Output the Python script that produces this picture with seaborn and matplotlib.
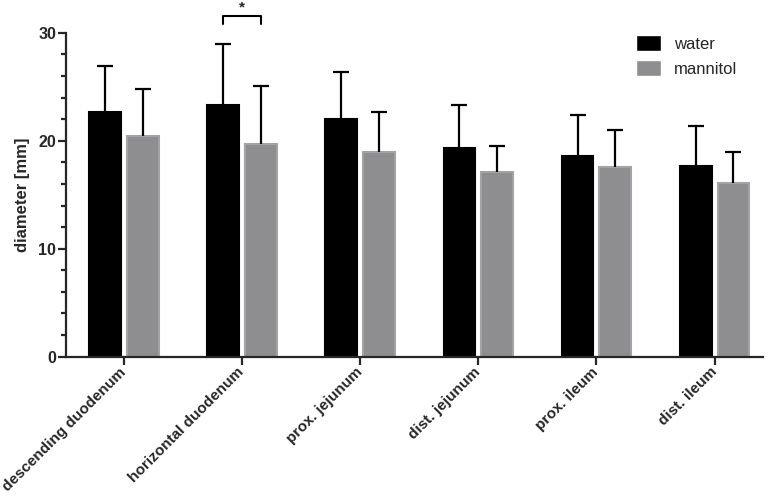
import matplotlib
matplotlib.use('Agg')
import matplotlib.pyplot as plt
from matplotlib.ticker import MultipleLocator
import numpy as np
import pandas as pd
import seaborn as sns

# Data
segments = ['descending duodenum', 'horizontal duodenum', 'prox. jejunum',
            'dist. jejunum', 'prox. ileum', 'dist. ileum']
groups = ['water', 'mannitol']
water = [22.7, 23.3, 22.0, 19.3, 18.6, 17.7]
water_sd = [4.2, 5.7, 4.4, 4.0, 3.8, 3.7]
mannitol = [20.4, 19.7, 19.0, 17.1, 17.6, 16.1]
mannitol_sd = [4.4, 5.4, 3.7, 2.4, 3.4, 2.9]

# Long format table for seaborn
df = pd.DataFrame({
    'segment': segments * 2,
    'group': ['water'] * len(segments) + ['mannitol'] * len(segments),
    'diameter': water + mannitol,
    'sd': water_sd + mannitol_sd,
})

sns.set_style('ticks')
plt.rcParams['font.family'] = ['Liberation Sans', 'DejaVu Sans']

fig = plt.figure(figsize=(7.77, 4.98), dpi=100)
ax = fig.add_axes([0.085, 0.284, 0.897, 0.65])

face = {'water': '#000000', 'mannitol': '#8d8d91'}
edge = {'water': '#000000', 'mannitol': '#a3a3a6'}

sns.barplot(data=df, x='segment', y='diameter', hue='group', hue_order=groups,
            palette=face, width=0.64, gap=0.16, errorbar=None, ax=ax)

# Edge colours and upward-only error bars (no lower cap)
centers = {}
for cont, g in zip(ax.containers, groups):
    xs = []
    for bar in cont:
        bar.set_edgecolor(edge[g])
        bar.set_linewidth(1.5)
        xs.append(bar.get_x() + bar.get_width() / 2)
    centers[g] = xs
    sub = df[df['group'] == g]
    eb = ax.errorbar(xs, sub['diameter'], yerr=[np.zeros(len(sub)), sub['sd']],
                     fmt='none', ecolor='black', elinewidth=1.6, capsize=6,
                     capthick=1.6, zorder=1)
    eb[1][0].set_visible(False)

# Significance bracket on horizontal duodenum
x1, x2 = centers['water'][1], centers['mannitol'][1]
ax.plot([x1, x1, x2, x2], [30.8, 31.6, 31.6, 30.8], color='black', lw=1.5,
        clip_on=False)
ax.text((x1 + x2) / 2, 31.7, '*', ha='center', va='bottom', fontsize=11,
        fontweight='bold')

ax.set_ylim(0, 30)
ax.set_xlim(-0.49, 5.41)
ax.yaxis.set_major_locator(MultipleLocator(10))
ax.yaxis.set_minor_locator(MultipleLocator(2))
ax.set_xlabel('')
ax.set_ylabel('diameter [mm]', fontsize=12, fontweight='bold', labelpad=6)

sns.despine(ax=ax)
for s in ['left', 'bottom']:
    ax.spines[s].set_linewidth(1.6)
ax.tick_params(axis='both', which='major', length=5.5, width=1.6)
ax.tick_params(axis='y', which='major', pad=1.5)
ax.tick_params(axis='x', which='major', pad=4)
ax.tick_params(axis='y', which='minor', length=3.5, width=1.6)
for lab in ax.get_yticklabels():
    lab.set_fontsize(11.5)
    lab.set_fontweight('bold')
ax.set_xticks(range(len(segments)))
ax.set_xticklabels(segments, rotation=45, ha='right', va='center',
                   rotation_mode='anchor', fontsize=11, fontweight='bold')

leg = ax.legend(frameon=False, loc='upper right', bbox_to_anchor=(0.985, 1.04),
                fontsize=12, handlelength=1.5, handleheight=1.1,
                handletextpad=0.8, labelspacing=0.5)

fig.savefig('out.png', dpi=100)
